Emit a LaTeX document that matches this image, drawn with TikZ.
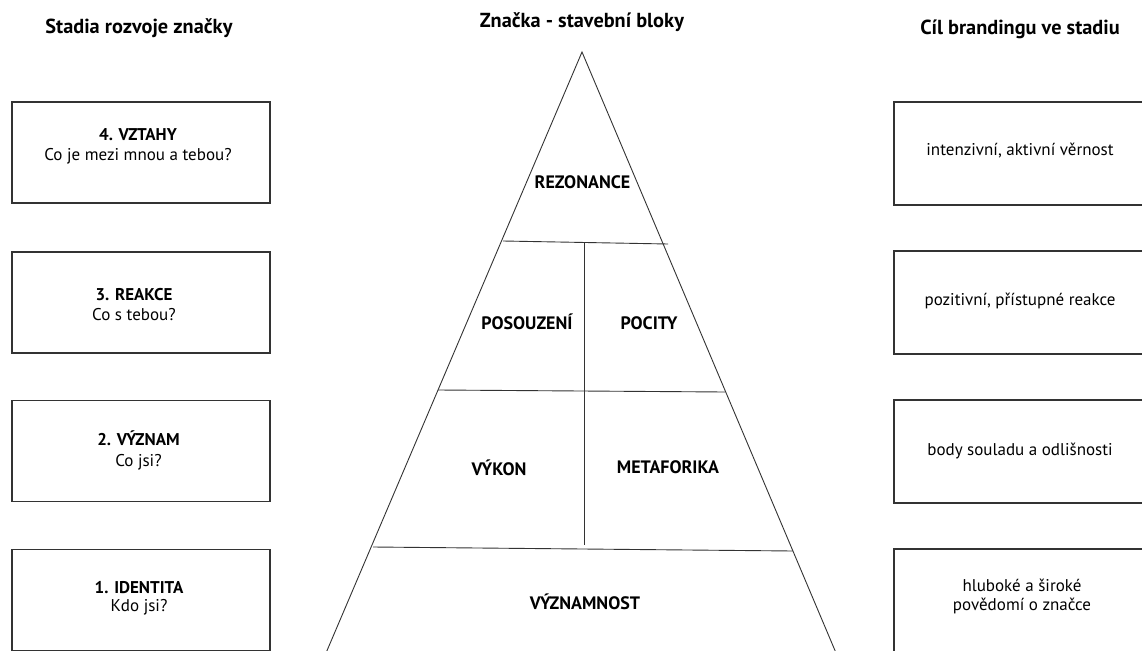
\documentclass[tikz,border=0pt]{standalone}
\usepackage{fontspec}
\setmainfont{PT Sans}
\begin{document}
\begin{tikzpicture}[x=1pt,y=-1pt,
  ln/.style={draw=black!80,line width=0.9pt},
  box/.style={draw=black!80,line width=1.1pt,minimum width=258pt,minimum height=101pt,inner sep=0pt},
  rbox/.style={box,minimum width=256pt,minimum height=103pt},
  bt/.style={anchor=base,inner sep=0pt,font=\fontsize{17}{20}\selectfont\bfseries},
  rt/.style={anchor=base,inner sep=0pt,font=\fontsize{17}{20}\selectfont},
  head/.style={anchor=base,inner sep=0pt,font=\fontsize{20.3}{24}\selectfont\bfseries},
  lab/.style={anchor=base,inner sep=0pt,font=\fontsize{18}{22}\selectfont\bfseries}]
\useasboundingbox (0,0) rectangle (1142,650);
\clip (0,0) rectangle (1142,650);
% headers
\node[head] (h1) at (139,33.5) {Stadia rozvoje značky};
\node[head] (h2) at (582,28) {Značka - stavební bloky};
\node[head] (h3) at (1020,34.5) {Cíl brandingu ve stadiu};
% left boxes
\node[box] (l4) at (141,152.5) {};
\node[box] (l3) at (141,302.5) {};
\node[box] (l2) at (141,451) {};
\node[box] (l1) at (141,600) {};
\node[bt] (l4a) at (138,140.7) {4. VZTAHY};
\node[rt] (l4b) at (138,160.7) {Co je mezi mnou a tebou?};
\node[bt] (l3a) at (134,300) {3. REAKCE};
\node[rt] (l3b) at (134,320) {Co s tebou?};
\node[bt] (l2a) at (138.5,445) {2. VÝZNAM};
\node[rt] (l2b) at (138.5,466) {Co jsi?};
\node[bt] (l1a) at (139,593) {1. IDENTITA};
\node[rt] (l1b) at (139,611) {Kdo jsi?};
% right boxes
\node[rbox] (r4) at (1022,153.5) {};
\node[rbox] (r3) at (1022,302.5) {};
\node[rbox] (r2) at (1022,451.5) {};
\node[rbox] (r1) at (1022,600.5) {};
\node[rt] (r4a) at (1020,155) {intenzivní, aktivní věrnost};
\node[rt] (r3a) at (1020,305) {pozitivní, přístupné reakce};
\node[rt] (r2a) at (1020,455) {body souladu a odlišnosti};
\node[rt] (r1a) at (1022,591) {hluboké a široké};
\node[rt] (r1b) at (1022,610) {povědomí o značce};
% pyramid
\coordinate (apex) at (582,52);
\coordinate (bl) at (323,660);
\coordinate (br) at (839,660);
\draw[ln] (bl) -- (apex) -- (br);
\coordinate (a1) at (503,241); \coordinate (b1) at (668,244);
\coordinate (a2) at (438,390); \coordinate (b2) at (725,392);
\coordinate (a3) at (373,547); \coordinate (b3) at (793,551);
\coordinate (v1) at (584,243); \coordinate (v2) at (584,545);
\draw[ln] (a1) -- (b1);
\draw[ln] (a2) -- (b2);
\draw[ln] (a3) -- (b3);
\draw[ln] (v1) -- (v2);
\node[lab] (rez) at (582.5,188.5) {REZONANCE};
\node[lab] (pos) at (527,329) {POSOUZENÍ};
\node[lab] (poc) at (649,329) {POCITY};
\node[lab] (vyk) at (499,475) {VÝKON};
\node[lab] (met) at (668,473.5) {METAFORIKA};
\node[lab] (vyz) at (585,609) {VÝZNAMNOST};
\end{tikzpicture}
\end{document}
